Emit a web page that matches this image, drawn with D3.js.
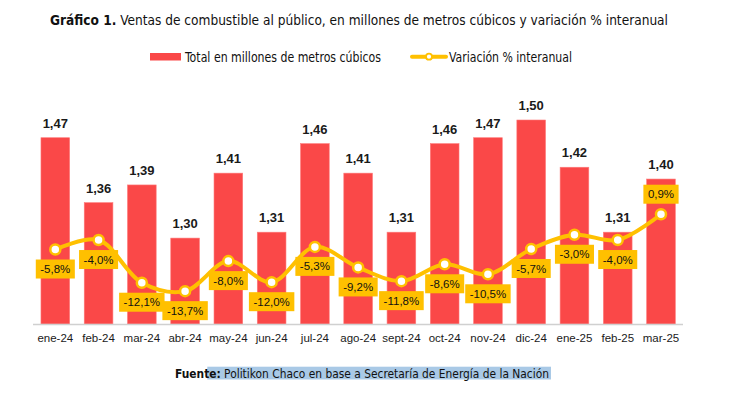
<!DOCTYPE html>
<html>
<head>
<meta charset="utf-8">
<script src="https://cdn.jsdelivr.net/npm/d3@7"></script>
<style>
  body { margin: 0; background: #fff; }
  svg { display: block; }
</style>
</head>
<body>
<svg width="730" height="398"></svg>
<script>
var width = 730;
var height = 398;

// datos
var months = ["ene-24", "feb-24", "mar-24", "abr-24", "may-24", "jun-24", "jul-24", "ago-24",
              "sept-24", "oct-24", "nov-24", "dic-24", "ene-25", "feb-25", "mar-25"];
var totals = [1.47, 1.36, 1.39, 1.30, 1.41, 1.31, 1.46, 1.41, 1.31, 1.46, 1.47, 1.50, 1.42, 1.31, 1.40];
var variation = [-5.8, -4.0, -12.1, -13.7, -8.0, -12.0, -5.3, -9.2, -11.8, -8.6, -10.5, -5.7, -3.0, -4.0, 0.9];

var barColor = "#FA4848";
var lineColor = "#FFC000";
var narrow = "'Liberation Sans Narrow', 'DejaVu Sans Condensed', 'Roboto Condensed', sans-serif";
var regular = "'Liberation Sans', Arial, sans-serif";

var rows = months.map((m, i) => ({ month: m, total: totals[i], pct: variation[i] }));

var locale = d3.formatLocale({ decimal: ",", thousands: ".", grouping: [3], currency: ["$", ""], minus: "-" });
var fmt2 = locale.format(".2f");
var fmt1 = locale.format(".1f");

var svg = d3.select("svg");

var x = d3.scaleBand()
  .domain(months)
  .range([33.7, 682.6])
  .paddingInner(0.337)
  .paddingOuter(0.168);

var y = d3.scaleLinear()          // eje de barras (no arranca en cero)
  .domain([1.1545, 1.50])
  .range([324, 120]);

var yPct = d3.scaleLinear()       // eje secundario de variacion
  .domain([-15, 5])
  .range([298, 192.6]);

// titulo
var title = svg.append("text")
  .attr("x", 50).attr("y", 25)
  .attr("font-family", narrow)
  .attr("font-size", 14.5)
  .attr("fill", "#111")
  .attr("textLength", 618)
  .attr("lengthAdjust", "spacingAndGlyphs");
title.append("tspan").attr("font-weight", "bold").text("Gráfico 1.");
title.append("tspan").text(" Ventas de combustible al público, en millones de metros cúbicos y variación % interanual");

// leyenda
var legend = svg.append("g");
legend.append("rect")
  .attr("x", 150).attr("y", 53).attr("width", 31).attr("height", 7.5)
  .attr("fill", barColor);
legend.append("text")
  .attr("x", 185).attr("y", 61.5)
  .attr("font-family", narrow).attr("font-size", 13.5).attr("fill", "#111")
  .attr("textLength", 196).attr("lengthAdjust", "spacingAndGlyphs")
  .text("Total en millones de metros cúbicos");
legend.append("line")
  .attr("x1", 412).attr("x2", 446).attr("y1", 56.7).attr("y2", 56.7)
  .attr("stroke", lineColor).attr("stroke-width", 4).attr("stroke-linecap", "round");
legend.append("circle")
  .attr("cx", 429).attr("cy", 56.7).attr("r", 3)
  .attr("fill", "#fff").attr("stroke", lineColor).attr("stroke-width", 1.8);
legend.append("text")
  .attr("x", 449).attr("y", 61.5)
  .attr("font-family", narrow).attr("font-size", 13.5).attr("fill", "#111")
  .attr("textLength", 123).attr("lengthAdjust", "spacingAndGlyphs")
  .text("Variación % interanual");

// barras
svg.selectAll("rect.bar")
  .data(rows)
  .enter()
  .append("rect")
    .attr("class", "bar")
    .attr("x", d => x(d.month))
    .attr("y", d => y(d.total))
    .attr("width", x.bandwidth())
    .attr("height", d => y.range()[0] - y(d.total))
    .attr("fill", barColor)
    .attr("stroke", "#FF7A7A")
    .attr("stroke-width", 0.6);

svg.selectAll("text.total")
  .data(rows)
  .enter()
  .append("text")
    .attr("class", "total")
    .attr("x", d => x(d.month) + x.bandwidth() / 2)
    .attr("y", d => y(d.total) - 10)
    .attr("text-anchor", "middle")
    .attr("font-family", regular)
    .attr("font-weight", "bold")
    .attr("font-size", 13)
    .attr("fill", "#1a1a1a")
    .text(d => fmt2(d.total));

// eje x
var xAxis = svg.append("g")
  .attr("transform", "translate(0,324.5)")
  .call(d3.axisBottom(x).tickSize(0).tickPadding(9));
xAxis.select(".domain").attr("stroke", "#d0d0d0").attr("stroke-width", 1.5)
  .attr("d", "M33,0H683");
xAxis.selectAll("text")
  .attr("font-family", regular)
  .attr("font-size", 11.5)
  .attr("fill", "#1a1a1a");

// linea de variacion
var line = d3.line()
  .x(d => x(d.month) + x.bandwidth() / 2)
  .y(d => yPct(d.pct))
  .curve(d3.curveCatmullRom.alpha(0.5));

svg.append("path")
  .datum(rows)
  .attr("d", line)
  .attr("fill", "none")
  .attr("stroke", lineColor)
  .attr("stroke-width", 4);

svg.selectAll("circle.pt")
  .data(rows)
  .enter()
  .append("circle")
    .attr("class", "pt")
    .attr("cx", d => x(d.month) + x.bandwidth() / 2)
    .attr("cy", d => yPct(d.pct))
    .attr("r", 5)
    .attr("fill", "#fff")
    .attr("stroke", lineColor)
    .attr("stroke-width", 2.5);

// etiquetas de variacion
var labels = svg.selectAll("g.pct")
  .data(rows)
  .enter()
  .append("g")
    .attr("class", "pct")
    .attr("transform", d => "translate(" + (x(d.month) + x.bandwidth() / 2) + "," +
      (yPct(d.pct) + (d.pct >= 0 ? -20 : 19.5)) + ")");

labels.append("rect").attr("fill", lineColor);
labels.append("text")
  .attr("text-anchor", "middle")
  .attr("dy", "0.35em")
  .attr("font-family", regular)
  .attr("font-size", 11.5)
  .attr("fill", "#111")
  .text(d => fmt1(d.pct) + "%");
labels.each(function() {
  var g = d3.select(this);
  var w = g.select("text").node().getComputedTextLength() + 9;
  g.select("rect").attr("x", -w / 2).attr("y", -9.5).attr("width", w).attr("height", 19);
});

// fuente
svg.append("rect")
  .attr("x", 207.3).attr("y", 366.7).attr("width", 343.7).attr("height", 12.8)
  .attr("fill", "#A9C9E6");
var src = svg.append("text")
  .attr("x", 175).attr("y", 377.5)
  .attr("font-family", narrow)
  .attr("font-size", 13)
  .attr("fill", "#111")
  .attr("textLength", 374)
  .attr("lengthAdjust", "spacingAndGlyphs");
src.append("tspan").attr("font-weight", "bold").text("Fuente:");
src.append("tspan").text(" Politikon Chaco en base a Secretaría de Energía de la Nación");
</script>
</body>
</html>
